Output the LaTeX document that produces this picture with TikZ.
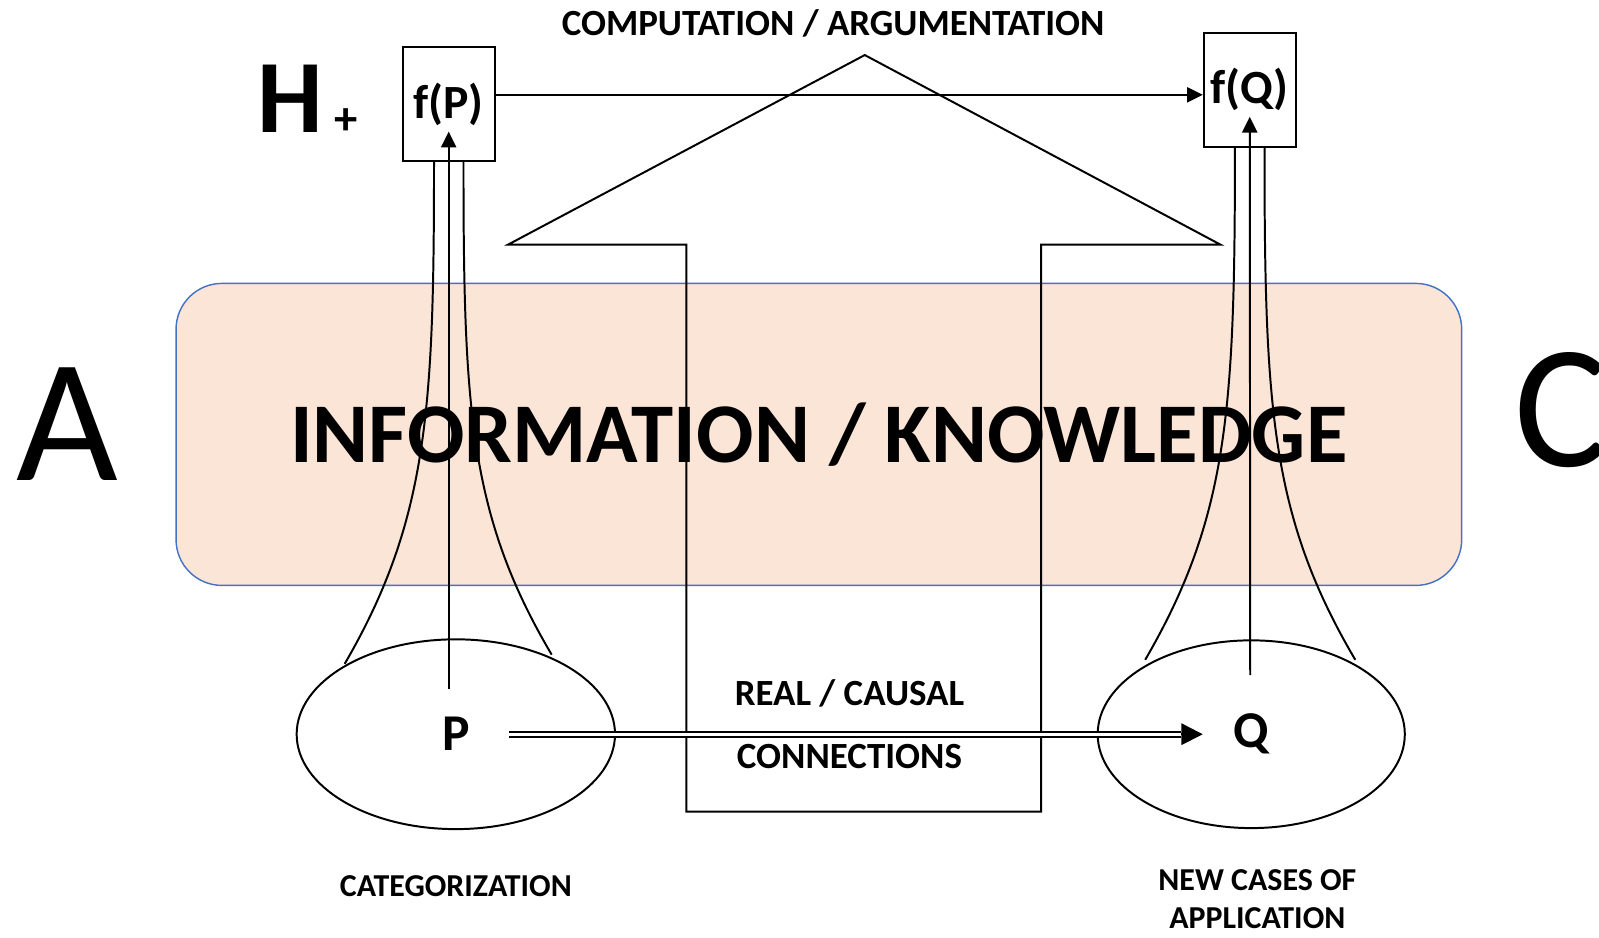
\documentclass[tikz,border=0pt]{standalone}
\usepackage{fontspec}
\setmainfont{Carlito}
\usetikzlibrary{arrows.meta}
\usetikzlibrary{positioning}
\usetikzlibrary{shapes.geometric}
\definecolor{peach}{HTML}{FBE5D6}
\definecolor{frameblue}{HTML}{4472C4}
\tikzset {
  syntax path/.style = {
    draw = black,
    line width = 0.55pt
  },
  % path style with a filled head
  arr/.style = {
    syntax path,
    -{Triangle[length=4.4pt, width=4.2pt]}
  },
  % path style with no arrows
  narr/.style = {
    syntax path
  },
  % double connector
  darr/.style = {
    syntax path,
    double = white,
    double distance = 0.8pt
  }
}
\tikzset {
  lbl/.style = {
    inner sep = 0,
    align = center,
    font = \bfseries\fontsize{10.3}{11}\selectfont
  },
  small lbl/.style = {
    lbl,
    font = \bfseries\fontsize{8.9}{10.5}\selectfont
  },
  infobox/.style = {
    draw = frameblue,
    fill = peach,
    line width = 0.4pt,
    rounded corners = 0.45cm,
    minimum width = 12.6cm,
    minimum height = 2.96cm,
    font = \bfseries\fontsize{23.7}{27}\selectfont
  },
  caseset/.style = {
    draw = black,
    line width = 0.55pt,
    ellipse,
    inner sep = 0,
    font = \bfseries\fontsize{14.4}{16}\selectfont
  },
  imgbox/.style = {
    draw = black,
    line width = 0.55pt,
    rectangle,
    inner sep = 0,
    minimum width = 0.9cm,
    minimum height = 1.12cm,
    font = \bfseries\fontsize{13.3}{14}\selectfont
  },
  bigletter/.style = {
    inner sep = 0,
    font = \fontsize{49}{55}\selectfont
  }
}

\begin{document}
\begin{tikzpicture}[x=0.01cm, y=-0.01cm]
    \useasboundingbox (0,0) rectangle (1568,919);

    \node[infobox] (info) at (803,426) {INFORMATION / KNOWLEDGE};
    \node[bigletter] (A) at (66,416) {A};
    \node[bigletter, anchor=west] (C) at (1484,402) {C};

    \node[caseset, minimum width=3.12cm, minimum height=1.86cm] (P) at (447,720) {P};
    \node[caseset, minimum width=3.01cm, minimum height=1.84cm] (Q) at (1227,720) {Q};
    \node[imgbox] (fP) at (440,102) {f(P)};
    \node[imgbox] (fQ) at (1225.5,88) {f(Q)};

    \node[inner sep=0, font=\bfseries\fontsize{29}{32}\selectfont] (H) at (285,97) {H};
    \node[inner sep=0, font=\bfseries\fontsize{13}{14}\selectfont] (plus) at (339,119) {+};

    \node[lbl] (comp) at (817,23) {COMPUTATION / ARGUMENTATION};
    \node[lbl] (real) at (833,680) {REAL / CAUSAL};
    \node[lbl] (conn) at (833,742) {CONNECTIONS};
    \node[small lbl, below=0.44cm of P] (cat) {CATEGORIZATION};
    \node[small lbl] (new) at (1233,882) {NEW CASES OF\\APPLICATION};

    % block arrow
    \draw[narr] (673,796) -- (673,240) -- (498,240) -- (848,54)
      -- (1197,240) -- (1021,240) -- (1021,796) -- cycle;

    \coordinate (P-foot) at (440,676);
    \coordinate (Q-foot) at (1226,662);
    \coordinate (top-line) at (0,93);

    \draw[narr] (338,651) .. controls (420,510) and (425.6,400) .. (425.6,158);
    \draw[narr] (541,642) .. controls (460,505) and (454.5,400) .. (454.5,158);
    \draw[narr] (1123,647) .. controls (1205,506) and (1211,400) .. (1211,144);
    \draw[narr] (1329,647) .. controls (1246,506) and (1240,400) .. (1240,144);

    \draw[arr, shorten >=0.27cm] (P-foot) -- (fP.center);
    \draw[arr, shorten >=0.265cm] (Q-foot) -- (fQ.center);
    \draw[arr] (fP.east |- top-line) -- (fQ.west |- top-line);

    \draw[arr, -{Triangle[length=6pt, width=6pt]}, shorten <=0.52cm, shorten >=0.475cm] (P.center) -- (Q.center);
    \draw[darr, shorten <=0.52cm, shorten >=0.475cm+6pt] (P.center) -- (Q.center);

\end{tikzpicture}
\end{document}
